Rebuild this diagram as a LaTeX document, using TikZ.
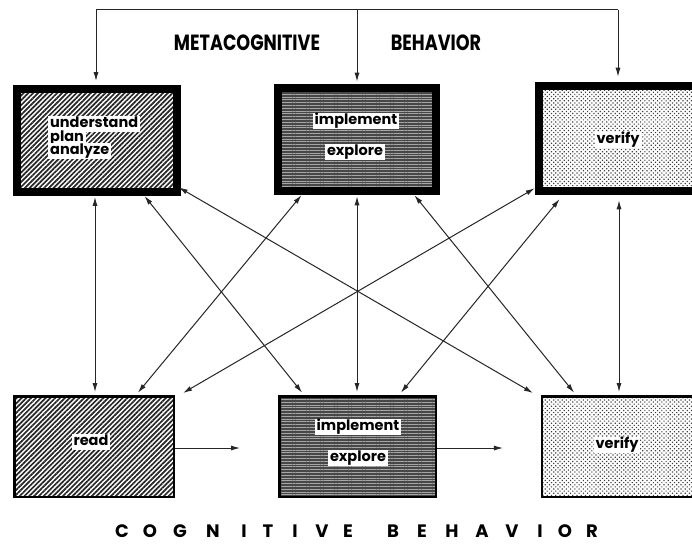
\documentclass[tikz,border=0pt]{standalone}
\usepackage{fontspec}
\newfontfamily\fut{Poppins}
\usetikzlibrary{arrows.meta,patterns.meta}
\begin{document}
\begin{tikzpicture}[x=1pt,y=-1pt,
  conn/.style={draw=black!85, line width=1pt},
  arr/.style={conn, -{Latex[length=9pt,width=5pt]}},
  darr/.style={conn, {Latex[length=9pt,width=5pt]}-{Latex[length=9pt,width=5pt]}},
  topbox/.style={draw=black, line width=8.5pt, inner sep=0pt},
  botbox/.style={draw=black, line width=2.5pt, inner sep=0pt},
  hatchfill/.style={preaction={fill=white}, pattern={Lines[angle=45,distance=3.4pt,line width=1.7pt]}, pattern color=black!85},
  hlinefill/.style={preaction={fill=black!72}, pattern={Lines[angle=0,distance=2.8pt,line width=0.6pt]}, pattern color=black!35},
  dotfill/.style={preaction={fill=white}, pattern={Dots[distance=3pt,radius=0.85pt,angle=45]}, pattern color=black!75},
  lab/.style={fill=white, inner xsep=2pt, inner ysep=1.5pt, text height=10.5pt, text depth=3pt, font=\fut\bfseries\fontsize{14.5}{14.5}\selectfont},
  head/.style={font=\fut\bfseries\fontsize{22}{22}\selectfont},
  big/.style={font=\fut\bfseries\fontsize{18}{18}\selectfont}
]
\clip (0,0) rectangle (692,559);
\fill[white] (0,0) rectangle (692,559);

% top boxes (metacognitive)
\node[topbox, hatchfill, minimum width=160pt, minimum height=103pt] (tl) at (97,140.5) {};
\node[topbox, hlinefill, minimum width=158pt, minimum height=103pt] (tm) at (357,139.5) {};
\node[topbox, dotfill, minimum width=162pt, minimum height=105pt] (tr) at (620,138.5) {};

% bottom boxes (cognitive)
\node[botbox, hatchfill, minimum width=159.5pt, minimum height=100.5pt] (bl) at (94,446.5) {};
\node[botbox, hlinefill, minimum width=156.5pt, minimum height=100.5pt] (bm) at (357.5,446.5) {};
\node[botbox, dotfill, minimum width=162.75pt, minimum height=100.5pt] (br) at (623.6,446.5) {};

% labels in boxes
\node[lab, anchor=west] (u1) at (48,124) {understand};
\node[lab, anchor=west] (u2) at (48,137.5) {plan};
\node[lab, anchor=west] (u3) at (48,151) {analyze};
\node[lab] (ti) at (356,121) {implement};
\node[lab] (te) at (355,152) {explore};
\node[lab] (tv) at (618,140) {verify};
\node[lab] (br1) at (91,442) {read};
\node[lab] (bi) at (358,427) {implement};
\node[lab] (be) at (358,458) {explore};
\node[lab] (bv) at (617,445) {verify};

% headings
\node[head] (meta) at (247,43) {\scalebox{0.8}[1]{METACOGNITIVE}};
\node[head] (beh) at (436,43) {\scalebox{0.8}[1]{BEHAVIOR}};
\foreach \l/\x [count=\i] in {C/122,O/150,G/180,N/213,I/244,T/268,I/295,V/322,E/348,B/393,E/422,H/452,A/482,V/512,I/540,O/565,R/592}
  \node[big] (cb\i) at (\x,531) {\l};

% top distribution line
\coordinate (c1) at (96,10);
\coordinate (c2) at (357,10);
\coordinate (c3) at (618,10);
\draw[conn] (c1) -- (c3);
\draw[arr, shorten >=7pt] (c1) -- (c1 |- tl.north);
\draw[arr, shorten >=6pt] (c2) -- (c2 |- tm.north);
\draw[arr, shorten >=5pt] (c3) -- (c3 |- tr.north);

% vertical links
\draw[darr, shorten <=4pt, shorten >=3pt] ([xshift=-2pt]tl.south) -- ([xshift=1pt]bl.north);
\draw[darr, shorten <=5pt, shorten >=3pt] (tm.south) -- ([xshift=-0.5pt]bm.north);
\draw[darr, shorten <=5pt, shorten >=3pt] ([xshift=-1pt]tr.south) -- ([xshift=-4.6pt]br.north);

% diagonal links
\draw[darr, shorten <=4pt, shorten >=3pt] ([xshift=45pt]tl.south) -- ([xshift=-53.5pt]bm.north);
\draw[darr, shorten <=1pt] ([yshift=6pt]tl.south east) -- ([xshift=-8pt,yshift=2pt]br.north west);
\draw[darr, shorten <=5pt, shorten >=3pt] ([xshift=27pt]tm.south west) -- ([xshift=-39pt]bl.north east);
\draw[darr, shorten <=5pt, shorten >=3pt] ([xshift=-25pt]tm.south east) -- ([xshift=35pt]br.north west);
\draw[darr] ([yshift=7pt]tr.south west) -- ([xshift=8pt,yshift=2pt]bl.north east);
\draw[darr, shorten <=5pt, shorten >=3pt] ([xshift=28pt]tr.south west) -- ([xshift=-38pt]bm.north east);

% horizontal links
\draw[arr, shorten >=38pt] ([yshift=-1.5pt]bl.east) -- ([yshift=-1.5pt]bm.west);
\draw[arr, shorten >=38pt] ([yshift=-1.5pt]bm.east) -- ([yshift=-1.5pt]br.west);
\end{tikzpicture}
\end{document}
